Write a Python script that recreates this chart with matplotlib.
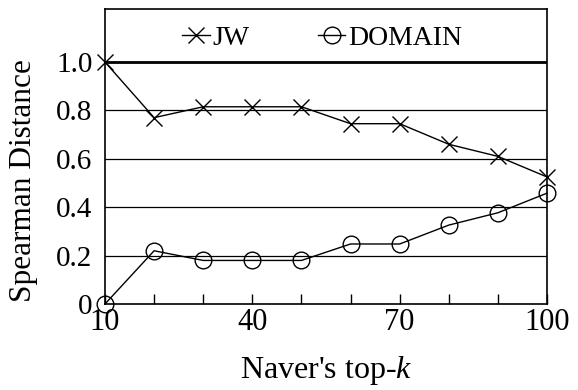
import matplotlib
matplotlib.use("Agg")
import matplotlib.pyplot as plt

k = [10, 20, 30, 40, 50, 60, 70, 80, 90, 100]
jw = [1.0, 0.77, 0.815, 0.815, 0.815, 0.745, 0.745, 0.66, 0.61, 0.525]
domain = [0.0, 0.22, 0.18, 0.18, 0.18, 0.248, 0.248, 0.326, 0.377, 0.458]
xtick_labels = ["10", "40", "70", "100"]
ytick_vals = [0, 0.2, 0.4, 0.6, 0.8, 1.0]
ytick_labels = ["0", "0.2", "0.4", "0.6", "0.8", "1.0"]

plt.rcParams['font.family'] = ['Liberation Serif', 'DejaVu Serif']
plt.rcParams['mathtext.fontset'] = 'custom'
plt.rcParams['mathtext.rm'] = 'Liberation Serif'
plt.rcParams['mathtext.it'] = 'Liberation Serif:italic'

fig = plt.figure(figsize=(5.78, 3.9), dpi=100)
ax = fig.add_axes([105/578, 1-304/390, (547-105)/578, (304-9)/390])

for v in ytick_vals[1:-1]:
    ax.axhline(v, color='black', lw=0.9, zorder=1)
ax.axhline(1.0, color='black', lw=2.0, zorder=1)

ax.plot(k, jw, color='black', lw=1.0, marker='x', ms=12, mew=1.0, label='JW', zorder=3, clip_on=False)
ax.plot(k, domain, color='black', lw=1.0, marker='o', ms=12, mew=1.0, mfc='none', label='DOMAIN', zorder=3, clip_on=False)

ax.set_xlim(10, 100)
ax.set_ylim(0, 1.219)
ax.set_xticks(k)
ax.set_xticklabels([str(v) if str(v) in xtick_labels else "" for v in k])
ax.set_yticks(ytick_vals)
ax.set_yticklabels(ytick_labels)
ax.tick_params(axis='x', direction='in', length=7, width=1, labelsize=22, pad=3)
ax.tick_params(axis='y', length=0, labelsize=21, pad=9)
for s in ax.spines.values():
    s.set_linewidth(1.2)

ax.set_xlabel("Naver's top-$k$", fontsize=23, labelpad=12)
ax.set_ylabel("Spearman Distance", fontsize=22.5)
ax.yaxis.set_label_coords(-0.152, 0.417)

ax.legend(loc='upper center', ncol=2, frameon=False, fontsize=20, handlelength=1.0,
          handletextpad=0.1, columnspacing=2.45, bbox_to_anchor=(0.491, 1.03))

fig.savefig("out.png", dpi=100)
